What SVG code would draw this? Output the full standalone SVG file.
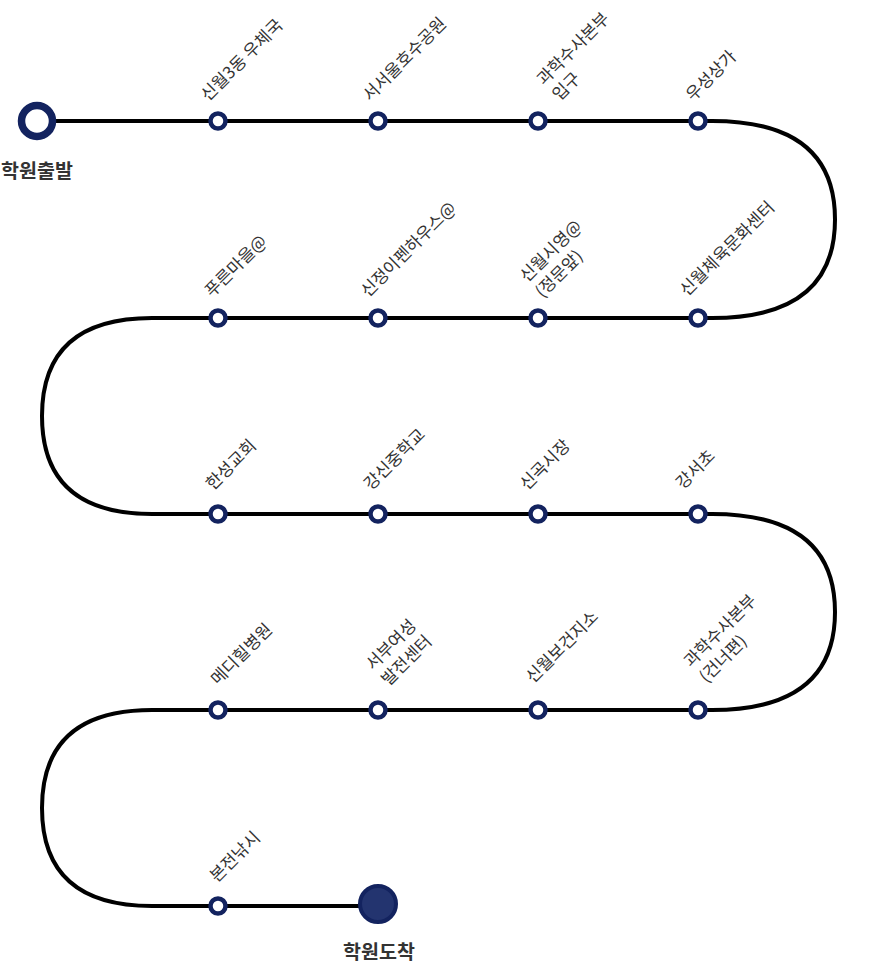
<svg xmlns="http://www.w3.org/2000/svg" width="877" height="967" viewBox="0 0 877 967">
<style>
.line{fill:none;stroke:#000;stroke-width:4}
.st{fill:#fff;stroke:#13235f;stroke-width:4.5}
.lbl{font-family:"Noto Sans CJK KR","Noto Sans",sans-serif;font-size:17px;fill:#333}
.big{font-family:"Noto Sans CJK KR","Noto Sans",sans-serif;font-size:19.5px;font-weight:700;fill:#333;text-anchor:middle}
</style>
<rect width="877" height="967" fill="#fff"/>
<g id="connectors">
<path class="line" d="M37 121 H218"/>
<path class="line" d="M218 121 H378"/>
<path class="line" d="M378 121 H538"/>
<path class="line" d="M538 121 H698"/>
<path class="line" d="M698 121 H712 Q835 121 835 219.5 Q835 318 712 318 H698"/>
<path class="line" d="M698 318 H538"/>
<path class="line" d="M538 318 H378"/>
<path class="line" d="M378 318 H218"/>
<path class="line" d="M218 318 H152 Q42 318 42 416 Q42 514 152 514 H218"/>
<path class="line" d="M218 514 H378"/>
<path class="line" d="M378 514 H538"/>
<path class="line" d="M538 514 H698"/>
<path class="line" d="M698 514 H712 Q835 514 835 612 Q835 710 712 710 H698"/>
<path class="line" d="M698 710 H538"/>
<path class="line" d="M538 710 H378"/>
<path class="line" d="M378 710 H218"/>
<path class="line" d="M218 710 H152 Q42 710 42 808 Q42 906 152 906 H218"/>
<path class="line" d="M218 906 H378"/>
</g>
<g id="start">
<circle cx="37" cy="121" r="15.5" fill="#fff" stroke="#13235f" stroke-width="7.5"/>
<text class="big" x="37" y="178">학원출발</text>
</g>
<g id="s1"><circle class="st" cx="218" cy="121" r="7.5"/><text class="lbl" transform="translate(208 102) rotate(-45)">신월3동 우체국</text></g>
<g id="s2"><circle class="st" cx="378" cy="121" r="7.5"/><text class="lbl" transform="translate(370 102) rotate(-45)">서서울호수공원</text></g>
<g id="s3"><circle class="st" cx="538" cy="121" r="7.5"/><text class="lbl" transform="translate(544 86) rotate(-45)"><tspan x="0" y="0">과학수사본부</tspan><tspan x="0" y="22">입구</tspan></text></g>
<g id="s4"><circle class="st" cx="698" cy="121" r="7.5"/><text class="lbl" transform="translate(693 102) rotate(-45)">우성상가</text></g>
<g id="s5"><circle class="st" cx="698" cy="318" r="7.5"/><text class="lbl" transform="translate(687 297) rotate(-45)">신월체육문화센터</text></g>
<g id="s6"><circle class="st" cx="538" cy="318" r="7.5"/><text class="lbl" transform="translate(527 283) rotate(-45)"><tspan x="0" y="0">신월시영@</tspan><tspan x="0" y="22">(정문앞)</tspan></text></g>
<g id="s7"><circle class="st" cx="378" cy="318" r="7.5"/><text class="lbl" transform="translate(368 298) rotate(-45)">신정이펜하우스@</text></g>
<g id="s8"><circle class="st" cx="218" cy="318" r="7.5"/><text class="lbl" transform="translate(212 298) rotate(-45)">푸른마을@</text></g>
<g id="s9"><circle class="st" cx="218" cy="514" r="7.5"/><text class="lbl" transform="translate(213 491) rotate(-45)">한성교회</text></g>
<g id="s10"><circle class="st" cx="378" cy="514" r="7.5"/><text class="lbl" transform="translate(371 491) rotate(-45)">강신중학교</text></g>
<g id="s11"><circle class="st" cx="538" cy="514" r="7.5"/><text class="lbl" transform="translate(527 491) rotate(-45)">신곡시장</text></g>
<g id="s12"><circle class="st" cx="698" cy="514" r="7.5"/><text class="lbl" transform="translate(683 490) rotate(-45)">강서초</text></g>
<g id="s13"><circle class="st" cx="698" cy="710" r="7.5"/><text class="lbl" transform="translate(691 668) rotate(-45)"><tspan x="0" y="0">과학수사본부</tspan><tspan x="0" y="22">(건너편)</tspan></text></g>
<g id="s14"><circle class="st" cx="538" cy="710" r="7.5"/><text class="lbl" transform="translate(533 684) rotate(-45)">신월보건지소</text></g>
<g id="s15"><circle class="st" cx="378" cy="710" r="7.5"/><text class="lbl" transform="translate(373 671) rotate(-45)"><tspan x="0" y="0">서부여성</tspan><tspan x="0" y="22">발전센터</tspan></text></g>
<g id="s16"><circle class="st" cx="218" cy="710" r="7.5"/><text class="lbl" transform="translate(218 686) rotate(-45)">메디힐병원</text></g>
<g id="s17"><circle class="st" cx="218" cy="906" r="7.5"/><text class="lbl" transform="translate(217 883) rotate(-45)">본전낚시</text></g>
<g id="end">
<circle cx="378" cy="904" r="18" fill="#23346f" stroke="#13235f" stroke-width="4"/>
<text class="big" x="379" y="959">학원도착</text>
</g>
</svg>
